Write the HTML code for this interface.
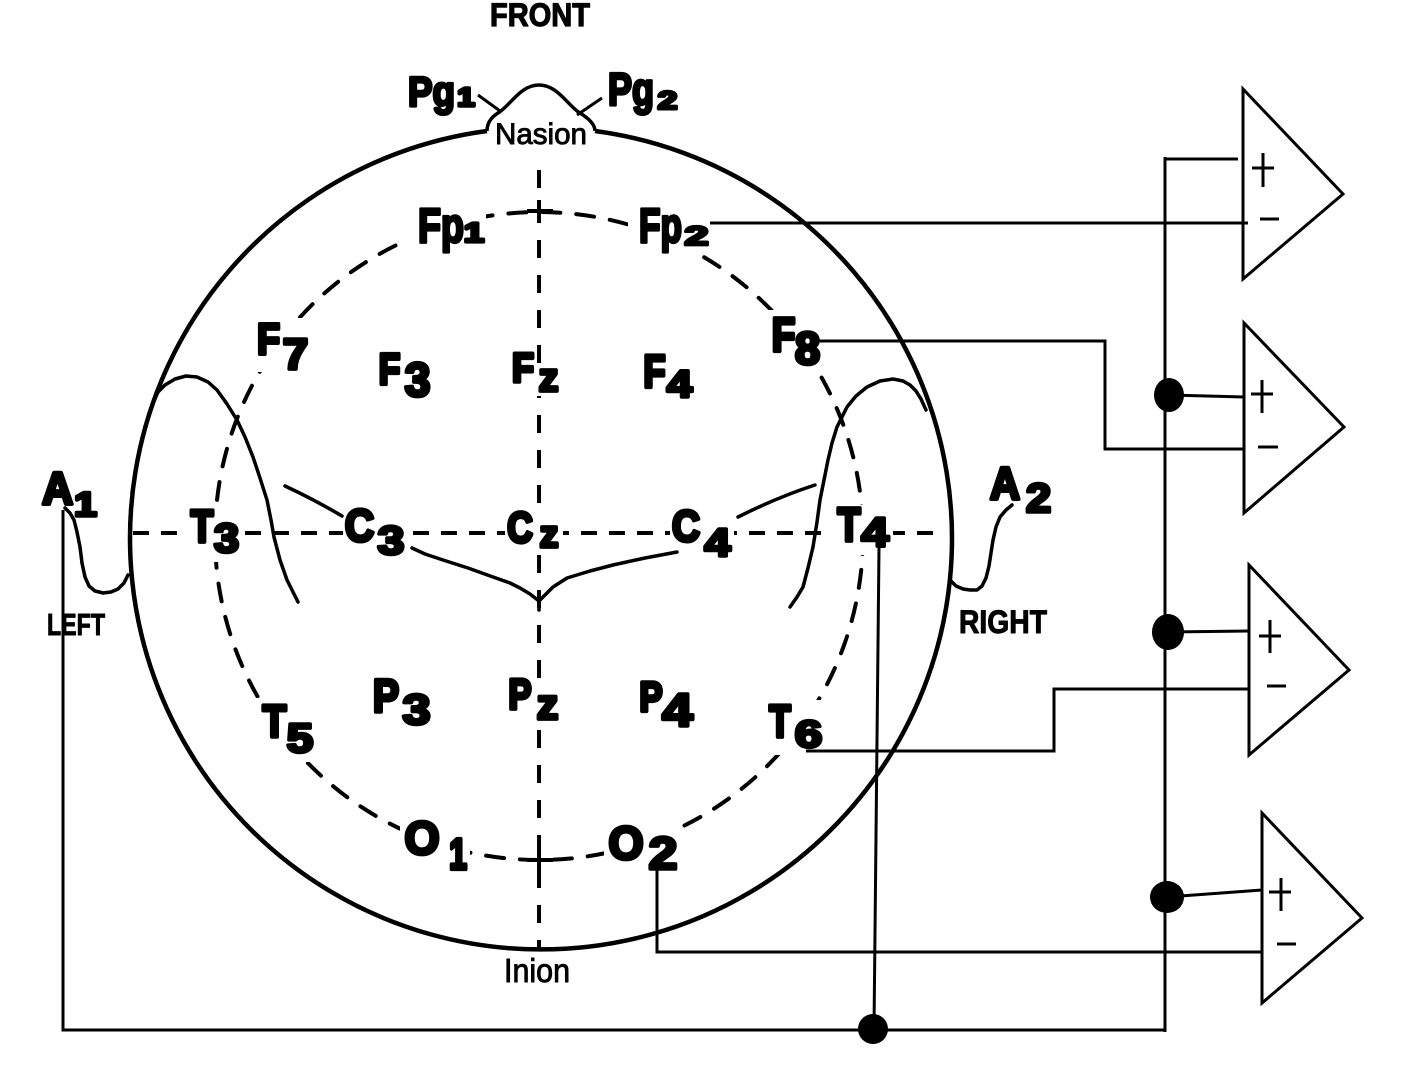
<!DOCTYPE html>
<html><head><meta charset="utf-8"><style>
html,body{margin:0;padding:0;background:#fff;}
svg{display:block;}
.lb{font-family:"Liberation Sans",sans-serif;font-weight:700;fill:#000;stroke:#000;stroke-width:3.2;stroke-linejoin:round;}
.g text{text-anchor:middle;vector-effect:non-scaling-stroke;stroke-width:3.8;}
.rg{font-family:"Liberation Sans",sans-serif;font-weight:400;fill:#000;stroke:#000;stroke-width:0.9;}
</style></head><body>
<svg width="1428" height="1072" viewBox="0 0 1428 1072" xmlns="http://www.w3.org/2000/svg">
<rect width="1428" height="1072" fill="#fff"/>
<!-- dashed inner circle -->
<circle cx="539" cy="536" r="324" fill="none" stroke="#000" stroke-width="4" stroke-dasharray="18 16" stroke-linecap="round"/>
<!-- midline dashed -->
<line x1="539" y1="170" x2="539" y2="948" stroke="#000" stroke-width="4" stroke-dasharray="18 17"/>
<!-- horizontal dashed -->
<line x1="133" y1="533" x2="945" y2="533" stroke="#000" stroke-width="4" stroke-dasharray="16 12"/>
<!-- masks -->
<g fill="#fff">
<rect x="406" y="200" width="80" height="55"/>
<rect x="628" y="200" width="84" height="52"/>
<rect x="254" y="318" width="58" height="54"/>
<rect x="766" y="310" width="60" height="62"/>
<rect x="186" y="502" width="58" height="60"/>
<rect x="832" y="505" width="61" height="50"/>
<rect x="256" y="698" width="62" height="64"/>
<rect x="764" y="700" width="62" height="55"/>
<rect x="400" y="815" width="70" height="59"/>
<rect x="604" y="820" width="76" height="54"/>
<rect x="343" y="505" width="64" height="54"/>
<rect x="505" y="506" width="58" height="46"/>
<rect x="670" y="505" width="64" height="56"/>
<rect x="536" y="366" width="26" height="30"/>
<rect x="534" y="691" width="28" height="32"/>
</g>
<!-- plus ticks on midline -->
<g stroke="#000" stroke-width="4">
<line x1="527" y1="211" x2="553" y2="211"/>
<line x1="539" y1="200" x2="539" y2="222"/>
<line x1="527" y1="860" x2="553" y2="860"/>
<line x1="539" y1="850" x2="539" y2="872"/>
</g>
<!-- head outline -->
<path d="M487 131 A411 411 0 1 0 595 131" fill="none" stroke="#000" stroke-width="4.5"/>
<path d="M487 131 C487 124 490 118 498 113 C510 106 520 85 539 85 C558 85 568 106 580 113 C588 118 595 124 595 131" fill="none" stroke="#000" stroke-width="3.5"/>
<line x1="478" y1="95" x2="500" y2="111" stroke="#000" stroke-width="3"/>
<line x1="602" y1="98" x2="577" y2="115" stroke="#000" stroke-width="3"/>
<!-- ears -->
<g fill="none" stroke="#000" stroke-width="3.5" stroke-linejoin="round" stroke-linecap="round">
<polyline points="153,403 158,392 165,385 175,379 186,376 197,377 208,382 217,390 227,404 237,420 245,437 253,457 260,478 267,500 271,520 274,537 280,560 287,580 293,592 298,602"/>
<polyline points="790,607 797,597 803,587 808,568 813,547 817,522 820,500 824,480 828,460 832,443 837,427 847,407 856,396 867,387 880,381 893,379 903,381 910,385 916,391 921,399 926,410"/>
<polyline points="65,508 70,513 74,520 77,532 80,547 82,563 85,577 89,586 95,591 103,593 111,592 118,589 124,583 128,575"/>
<polyline points="950,580 956,586 963,589 970,590 977,590 982,586 986,578 989,566 991,553 993,540 996,527 1000,517 1006,510 1012,505"/>
<path d="M285 486 Q315 500 342 516"/>
<path d="M738 517 Q778 497 815 485"/>
<polyline points="412,548 425,554 443,560 468,568 493,577 510,583 520,588 530,594 539,601 546,594 553,587 567,578 590,571 613,565 645,558 677,552"/>
<line x1="539" y1="601" x2="539" y2="610"/>
</g>
<!-- wires -->
<g fill="none" stroke="#000" stroke-width="3">
<path d="M63 510 V1030 H1165"/>
<path d="M1165 157 V1032"/>
<path d="M1165 159 H1238"/>
<path d="M879 548 L874 1029"/>
<path d="M710 223 H1248"/>
<path d="M819 341 H1105 V449 H1243"/>
<path d="M806 751 H1054 V689 H1249"/>
<path d="M657 870 V952 H1262"/>
<path d="M1169 395 L1244 397"/>
<path d="M1168 632 L1249 631"/>
<path d="M1167 897 L1262 890"/>
<!-- amplifiers -->
<path d="M1243 89 V279 L1343 194 Z"/>
<path d="M1244 323 V513 L1344 427 Z"/>
<path d="M1249 565 V755 L1349 670 Z"/>
<path d="M1262 813 V1003 L1362 918 Z"/>
<path d="M1252 168 H1274 M1263 153 V187 M1260 219 H1279"/>
<path d="M1251 394 H1273 M1262 380 V413 M1258 447 H1278"/>
<path d="M1259 636 H1281 M1270 620 V653 M1267 686 H1286"/>
<path d="M1269 892 H1291 M1281 878 V911 M1277 944 H1296"/>
</g>
<g fill="#000">
<ellipse cx="1169" cy="395" rx="15" ry="17"/>
<ellipse cx="1168" cy="632" rx="16" ry="18"/>
<ellipse cx="1167" cy="897" rx="17" ry="16"/>
<ellipse cx="873" cy="1029" rx="15" ry="15"/>
</g>
<!-- multi-char labels -->
<g class="lb">
<text x="490" y="26" font-size="32" textLength="100" lengthAdjust="spacingAndGlyphs" style="stroke-width:1.2">FRONT</text>
<text x="408" y="106" font-size="42" textLength="47" lengthAdjust="spacingAndGlyphs">Pg</text>
<text x="608" y="105" font-size="45" textLength="46" lengthAdjust="spacingAndGlyphs">Pg</text>
<text x="418" y="242" font-size="48" textLength="46" lengthAdjust="spacingAndGlyphs">Fp</text>
<text x="639" y="242" font-size="48" textLength="43" lengthAdjust="spacingAndGlyphs">Fp</text>
<text x="47" y="635" font-size="31" textLength="58" lengthAdjust="spacingAndGlyphs" style="stroke-width:1">LEFT</text>
<text x="959" y="633" font-size="32" textLength="88" lengthAdjust="spacingAndGlyphs" style="stroke-width:1">RIGHT</text>
</g>
<!-- single glyphs -->
<g class="lb g">
<text transform="translate(466,106) scale(1.2,1)" font-size="26">1</text>
<text transform="translate(667.5,109) scale(1.4,1)" font-size="25">2</text>
<text transform="translate(474,242) scale(1.3,1)" font-size="28">1</text>
<text transform="translate(696.5,245) scale(1.6,1)" font-size="27">2</text>
<text transform="translate(268.5,354) scale(0.85,1)" font-size="44">F</text>
<text transform="translate(295.5,369) scale(1.04,1)" font-size="44">7</text>
<text transform="translate(389.5,384) scale(0.8,1)" font-size="44">F</text>
<text transform="translate(417.5,396) scale(0.98,1)" font-size="47">3</text>
<text transform="translate(523,382) scale(0.88,1)" font-size="41">F</text>
<text transform="translate(548.5,391) scale(0.98,1)" font-size="40">z</text>
<text transform="translate(654.5,387) scale(0.8,1)" font-size="45">F</text>
<text transform="translate(679.5,397) scale(1.2,1)" font-size="38">4</text>
<text transform="translate(783.5,351) scale(0.82,1)" font-size="47">F</text>
<text transform="translate(807.5,364) scale(1.0,1)" font-size="45">8</text>
<text transform="translate(202,542) scale(0.82,1)" font-size="45">T</text>
<text transform="translate(226.5,552) scale(1.1,1)" font-size="41">3</text>
<text transform="translate(359.5,541) scale(0.9,1)" font-size="45">C</text>
<text transform="translate(391,554) scale(1.2,1)" font-size="40">3</text>
<text transform="translate(520,542) scale(0.82,1)" font-size="43">C</text>
<text transform="translate(549,547) scale(0.98,1)" font-size="38">z</text>
<text transform="translate(686,541) scale(0.88,1)" font-size="44">C</text>
<text transform="translate(717.5,556) scale(1.2,1)" font-size="39">4</text>
<text transform="translate(849,541) scale(0.8,1)" font-size="47">T</text>
<text transform="translate(875,546) scale(1.2,1)" font-size="41">4</text>
<text transform="translate(386,712) scale(0.85,1)" font-size="46">P</text>
<text transform="translate(416.5,724) scale(1.17,1)" font-size="43">3</text>
<text transform="translate(520,709) scale(0.8,1)" font-size="43">P</text>
<text transform="translate(547.5,719) scale(1.0,1)" font-size="43">z</text>
<text transform="translate(651,711) scale(0.82,1)" font-size="42">P</text>
<text transform="translate(677.5,726) scale(1.2,1)" font-size="46">4</text>
<text transform="translate(274.5,737) scale(0.86,1)" font-size="45">T</text>
<text transform="translate(300,752) scale(1.16,1)" font-size="41">5</text>
<text transform="translate(780,737) scale(0.78,1)" font-size="45">T</text>
<text transform="translate(808.5,747) scale(1.3,1)" font-size="38">6</text>
<text transform="translate(422,854) scale(0.98,1)" font-size="46">O</text>
<text transform="translate(458,869) scale(0.72,1)" font-size="44">1</text>
<text transform="translate(626,859) scale(0.98,1)" font-size="46">O</text>
<text transform="translate(663,869) scale(1.15,1)" font-size="45">2</text>
<text transform="translate(57.5,504) scale(0.95,1)" font-size="45">A</text>
<text transform="translate(85.5,516) scale(1.2,1)" font-size="34">1</text>
<text transform="translate(1005,499) scale(0.92,1)" font-size="45">A</text>
<text transform="translate(1038.5,512) scale(1.1,1)" font-size="41">2</text>
</g>
<g class="rg">
<text x="495" y="144" font-size="30" textLength="92" lengthAdjust="spacingAndGlyphs">Nasion</text>
<text x="504" y="982" font-size="33" textLength="66" lengthAdjust="spacingAndGlyphs">Inion</text>
</g>
</svg>
</body></html>
